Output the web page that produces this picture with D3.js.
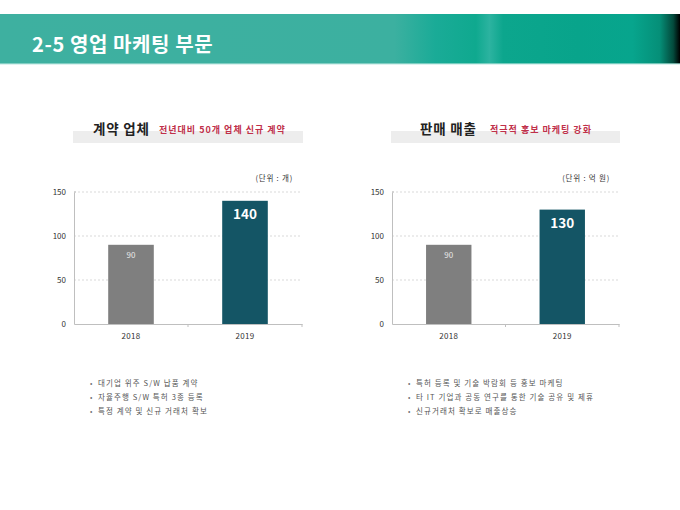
<!DOCTYPE html>
<html><head><meta charset="utf-8">
<script src="https://cdn.jsdelivr.net/npm/d3@7"></script>
<style>body{margin:0;background:#fff}svg{display:block}</style>
</head><body>
<script>
const pageTitle = "2-5 영업 마케팅 부문";
const categories = ["2018", "2019"];
const yTicks = [0, 50, 100, 150];
const contractValues = [90, 140];
const salesValues = [90, 130];
const chartTitles = ["계약 업체", "판매 매출"];
const chartSubtitles = ["전년대비 50개 업체 신규 계약", "적극적 홍보 마케팅 강화"];
const unitLabels = ["(단위 : 개)", "(단위 : 억 원)"];
const leftBullets = ["대기업 위주 S/W 납품 계약", "자율주행 S/W 특허 3종 등록", "특정 계약 및 신규 거래처 확보"];
const rightBullets = ["특허 등록 및 기술 박람회 등 홍보 마케팅", "타 IT 기업과 공동 연구를 통한 기술 공유 및 제휴", "신규거래처 확보로 매출상승"];
const barColors = ["#7f7f7f", "#145565"];

const W = 680, H = 510;
const FONT = "'Noto Sans CJK KR','Noto Sans',sans-serif";
const svg = d3.select("body").append("svg").attr("width", W).attr("height", H).style("font-family", FONT);
const defs = svg.append("defs");
const g = defs.append("linearGradient").attr("id", "hdr").attr("x1", 0).attr("x2", 1).attr("y1", 0).attr("y2", 0);
[[0, "#3eb0a0"], [0.58, "#3cb0a0"], [0.64, "#1aab97"], [0.7, "#0fa98f"], [0.72, "#2cb3a0"], [0.74, "#0ca68d"], [0.85, "#08a48b"], [0.93, "#07a58d"], [0.97, "#058f78"], [0.99, "#034a3c"], [1, "#000"]]
  .forEach(([o, c]) => g.append("stop").attr("offset", o).attr("stop-color", c));

svg.append("rect").attr("x", 0).attr("y", 14).attr("width", W).attr("height", 50).attr("fill", "url(#hdr)");
svg.append("rect").attr("x", 0).attr("y", 63).attr("width", W).attr("height", 1.5).attr("fill", "#9fdcd2").attr("opacity", 0.7);
svg.append("text").attr("x", 32).attr("y", 52).attr("fill", "#fff").attr("font-size", 20).attr("font-weight", "bold").attr("letter-spacing", 0.6).text(pageTitle);

function drawChart(i, x0, x1, values, bullets) {
  const top = 192, bottom = 324;
  const x = d3.scaleBand().domain(categories).range([x0, x1]).paddingInner(0.6).paddingOuter(0.3);
  const y = d3.scaleLinear().domain([0, 150]).range([bottom, top]);
  const gc = svg.append("g");

  // title band
  gc.append("rect").attr("x", x0 - 1).attr("y", 131).attr("width", x1 - x0 + 2).attr("height", 12).attr("fill", "#ededed");
  gc.append("text").attr("y", 134).attr("font-size", 13.5).attr("font-weight", "bold").attr("fill", "#222").attr("letter-spacing", 0.8).attr("x", x0 + (i === 0 ? 19 : 28)).text(chartTitles[i]);
  gc.append("text").attr("x", x0 + (i === 0 ? 85 : 98)).attr("y", 133).attr("font-size", 9).attr("font-weight", "bold").attr("fill", "#c0304a").attr("letter-spacing", 1).text(chartSubtitles[i]);
  gc.append("text").attr("x", x1 - 9).attr("y", 181).attr("text-anchor", "end").attr("font-size", 7.5).attr("fill", "#333").attr("letter-spacing", 0.8).text(unitLabels[i]);

  // grid
  gc.selectAll(".grid").data(yTicks.filter(d => d > 0)).join("line")
    .attr("x1", x0).attr("x2", x1).attr("y1", d => y(d)).attr("y2", d => y(d))
    .attr("stroke", "#cfcfcf").attr("stroke-width", 0.8).attr("stroke-dasharray", "2,2");

  // y axis
  const ya = d3.axisLeft(y).tickValues(yTicks).tickSize(0).tickPadding(8);
  const yg = gc.append("g").attr("transform", `translate(${x0},0)`).call(ya);
  yg.select(".domain").attr("stroke", "#bfbfbf");
  yg.selectAll("text").attr("font-size", 8).attr("fill", "#333").attr("font-family", FONT);
  gc.append("line").attr("x1", x0).attr("x2", x0 + 2).attr("y1", top).attr("y2", top).attr("stroke", "#bfbfbf");

  // bars
  gc.selectAll(".bar").data(values).join("rect")
    .attr("x", (d, j) => x(categories[j])).attr("width", x.bandwidth())
    .attr("y", d => y(d)).attr("height", d => y(0) - y(d))
    .attr("fill", (d, j) => barColors[j]);

  // x axis
  const xa = d3.axisBottom(x).tickSize(0).tickPadding(9);
  const xg = gc.append("g").attr("transform", `translate(0,${bottom})`).call(xa);
  xg.select(".domain").attr("stroke", "#bfbfbf");
  xg.selectAll("text").attr("font-size", 8).attr("fill", "#333").attr("font-family", FONT).attr("letter-spacing", 0.3);
  const xs = d3.scaleLinear().domain([0, categories.length]).range([x0, x1]);
  gc.selectAll(".xt").data(d3.range(1, categories.length + 1)).join("line")
    .attr("x1", d => xs(d)).attr("x2", d => xs(d)).attr("y1", bottom).attr("y2", bottom + 3).attr("stroke", "#bfbfbf");

  // value labels
  gc.selectAll(".lbl").data(values).join("text")
    .attr("x", (d, j) => x(categories[j]) + x.bandwidth() / 2)
    .attr("y", (d, j) => y(d) + (j === 0 ? 13 : 18.5))
    .attr("text-anchor", "middle")
    .attr("font-size", (d, j) => j === 0 ? 8 : 13.5)
    .attr("font-weight", (d, j) => j === 0 ? "normal" : "bold")
    .attr("fill", (d, j) => j === 0 ? "#e8e8e8" : "#fff")
    .text(d => d);

  // bullets
  const bx = x0 + 16;
  const bl = gc.selectAll(".bl").data(bullets).join("g").attr("transform", (d, j) => `translate(${bx},${386 + j * 14})`);
  bl.append("text").attr("x", 0).attr("y", 0).attr("font-size", 7).attr("fill", "#777").text("•");
  bl.append("text").attr("x", 8).attr("y", 0).attr("font-size", 7.5).attr("fill", "#555").attr("letter-spacing", 1.1).text(d => d);
}

drawChart(0, 74, 302, contractValues, leftBullets);
drawChart(1, 392, 619, salesValues, rightBullets);
</script>
</body></html>
